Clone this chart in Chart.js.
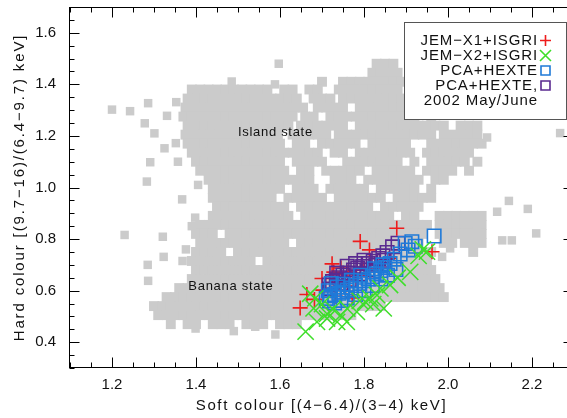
<!DOCTYPE html>
<html><head><meta charset="utf-8">
<script src="https://cdn.jsdelivr.net/npm/chart.js@4.4.1/dist/chart.umd.min.js"></script>
<style>
html,body{margin:0;padding:0;overflow:hidden;background:#fff;width:567px;height:418px}
#wrap{position:relative;width:580px;height:418px}
canvas{display:block}
</style></head>
<body><div id="wrap"><canvas id="c" width="580" height="418" style="width:580px;height:418px"></canvas></div>
<script>
// ---- axes ----
const xRange = [1.1, 2.3];
const yRange = [0.3, 1.7];
const xTickLabels = [1.2, 1.4, 1.6, 1.8, 2.0, 2.2];
const yTickLabels = [0.4, 0.6, 0.8, 1.0, 1.2, 1.4, 1.6];
const xTitle = 'Soft colour [(4\u22126.4)/(3\u22124) keV]';
const yTitle = 'Hard colour [(9.7\u221216)/(6.4\u22129.7) keV]';

// ---- series labels ----
const seriesLabels = ['JEM\u2212X1+ISGRI', 'JEM\u2212X2+ISGRI', 'PCA+HEXTE', 'PCA+HEXTE,\n2002 May/June'];

// ---- coloured series [soft, hard] ----
const jemx1Points = [[1.878,0.842],[1.791,0.791],[1.813,0.758],[1.962,0.751],[1.724,0.704],[1.728,0.672],[1.700,0.647],[1.664,0.585],[1.648,0.533],[1.682,0.566],[1.745,0.688],[1.762,0.672],[1.782,0.662],[1.738,0.632],[1.756,0.618],[1.800,0.683],[1.702,0.602],[1.772,0.572],[1.732,0.578],[1.832,0.702],[1.860,0.725]];
const jemx2Points = [[1.661,0.441],[1.688,0.479],[1.712,0.492],[1.736,0.479],[1.759,0.479],[1.783,0.518],[1.803,0.557],[1.815,0.570],[1.831,0.583],[1.839,0.609],[1.847,0.531],[1.862,0.622],[1.910,0.673],[1.950,0.751],[1.940,0.760],[1.680,0.531],[1.684,0.570],[1.672,0.588],[1.700,0.548],[1.726,0.528],[1.760,0.530],[1.790,0.560],[1.822,0.548],[1.880,0.650],[1.930,0.735],[1.712,0.510],[1.745,0.505]];
const pcaPoints = [[1.967,0.812],[1.922,0.772],[1.914,0.790],[1.898,0.783],[1.905,0.758],[1.886,0.742],[1.872,0.722],[1.862,0.705],[1.850,0.690],[1.840,0.678],[1.830,0.665],[1.820,0.655],[1.810,0.645],[1.800,0.638],[1.790,0.628],[1.780,0.620],[1.770,0.610],[1.760,0.602],[1.750,0.595],[1.740,0.590],[1.730,0.585],[1.720,0.580],[1.715,0.600],[1.718,0.560],[1.730,0.552],[1.745,0.562],[1.760,0.572],[1.780,0.585],[1.800,0.600],[1.820,0.620],[1.840,0.645],[1.856,0.660],[1.876,0.682],[1.722,0.628],[1.736,0.614],[1.710,0.570],[1.792,0.660],[1.770,0.640],[1.750,0.625],[1.825,0.685],[1.845,0.700]];
const pca2002Points = [[1.881,0.784],[1.868,0.770],[1.855,0.748],[1.845,0.735],[1.835,0.725],[1.822,0.714],[1.810,0.705],[1.797,0.694],[1.785,0.688],[1.775,0.680],[1.762,0.668],[1.750,0.660],[1.740,0.650],[1.734,0.642],[1.725,0.635],[1.717,0.622],[1.720,0.606],[1.745,0.628],[1.765,0.642],[1.790,0.665],[1.808,0.680],[1.828,0.698],[1.848,0.718],[1.760,0.695],[1.800,0.718],[1.735,0.668],[1.780,0.705]];

// ---- grey archive points: rows of [hard, [soft values]] ----
const islandRows = [
 [1.48,[1.83,1.85,1.87]],
 [1.445,[1.82,1.84,1.86,1.88]],
 [1.41,[1.70,1.75,1.77,1.79,1.81,1.83,1.85,1.87,1.89]],
 [1.38,[1.39,1.41,1.43,1.45,1.47,1.49,1.51,1.53,1.55,1.57,1.61,1.63,1.67,1.69,1.74,1.76,1.78,1.80,1.82,1.84,1.86,1.88]],
 [1.345,[1.38,1.40,1.42,1.44,1.46,1.48,1.50,1.52,1.54,1.56,1.58,1.60,1.62,1.64,1.68,1.70,1.72,1.75,1.77,1.79,1.81,1.83,1.85,1.87,1.89]],
 [1.31,[1.375,1.395,1.415,1.435,1.455,1.475,1.495,1.515,1.535,1.555,1.575,1.595,1.615,1.635,1.655,1.69,1.71,1.73,1.75,1.79,1.81,1.83,1.85,1.87,1.89,1.91,1.93]],
 [1.275,[1.37,1.39,1.41,1.43,1.45,1.47,1.49,1.51,1.53,1.55,1.57,1.59,1.61,1.63,1.66,1.68,1.72,1.74,1.76,1.78,1.80,1.82,1.84,1.86,1.88,1.90,1.92,1.96]],
 [1.24,[1.38,1.40,1.42,1.44,1.46,1.48,1.50,1.52,1.54,1.56,1.58,1.60,1.62,1.65,1.67,1.69,1.71,1.73,1.75,1.79,1.81,1.83,1.85,1.87,1.89,1.91,1.93,1.95,1.97,1.99,2.03,2.05,2.07]],
 [1.205,[1.375,1.395,1.415,1.435,1.455,1.475,1.495,1.515,1.535,1.555,1.575,1.595,1.63,1.65,1.67,1.69,1.71,1.74,1.76,1.78,1.80,1.82,1.84,1.86,1.88,1.90,1.92,1.94,1.96,1.99,2.01,2.03,2.05,2.07]],
 [1.17,[1.38,1.40,1.42,1.44,1.46,1.48,1.50,1.52,1.54,1.56,1.58,1.60,1.64,1.66,1.70,1.72,1.74,1.76,1.78,1.82,1.84,1.86,1.88,1.90,1.96,1.98,2.00,2.02,2.04,2.06,2.08]],
 [1.135,[1.39,1.41,1.43,1.45,1.47,1.49,1.51,1.53,1.55,1.57,1.59,1.61,1.63,1.65,1.67,1.69,1.73,1.75,1.79,1.81,1.83,1.85,1.87,1.89,1.91,1.95,1.97,1.99,2.01,2.03,2.05]],
 [1.10,[1.40,1.42,1.44,1.46,1.48,1.50,1.52,1.54,1.56,1.58,1.60,1.64,1.66,1.68,1.70,1.76,1.78,1.80,1.82,1.84,1.86,1.88,1.92,1.96,1.98,2.00,2.02,2.04,2.07]],
 [1.065,[1.41,1.43,1.45,1.47,1.49,1.51,1.53,1.55,1.57,1.59,1.61,1.65,1.67,1.71,1.73,1.75,1.77,1.79,1.83,1.85,1.87,1.89,1.91,1.95,1.97,1.99,2.01,2.05]],
 [1.03,[1.43,1.45,1.47,1.49,1.51,1.53,1.55,1.57,1.59,1.61,1.63,1.65,1.67,1.73,1.75,1.77,1.81,1.83,1.85,1.87,1.89,1.91,1.93,1.97,1.99]],
 [0.995,[1.44,1.46,1.48,1.50,1.52,1.54,1.56,1.58,1.60,1.64,1.66,1.68,1.72,1.74,1.76,1.78,1.80,1.84,1.86,1.88,1.90,1.92,1.96]],
 [0.96,[1.44,1.46,1.48,1.50,1.52,1.54,1.56,1.58,1.62,1.64,1.66,1.68,1.70,1.74,1.76,1.78,1.80,1.82,1.84,1.88,1.90,1.92,1.94,1.96]],
 [0.925,[1.45,1.47,1.49,1.51,1.53,1.55,1.57,1.59,1.61,1.65,1.67,1.69,1.71,1.73,1.75,1.77,1.79,1.81,1.85,1.87,1.89,1.91,1.93]],
 [0.89,[1.44,1.46,1.48,1.50,1.52,1.54,1.56,1.58,1.60,1.62,1.66,1.68,1.70,1.72,1.74,1.76,1.78,1.80,1.82,1.84,1.86,1.90,1.92,1.98,2.00,2.02,2.04,2.06,2.08]],
 [0.855,[1.41,1.43,1.45,1.47,1.49,1.51,1.53,1.55,1.57,1.59,1.61,1.63,1.65,1.67,1.69,1.71,1.73,1.75,1.77,1.79,1.81,1.83,1.85,1.87,1.89,1.91,1.93,1.95,1.98,2.00,2.02,2.04,2.06,2.08]]
];
const bananaRows = [
 [0.82,[1.40,1.42,1.44,1.48,1.50,1.52,1.54,1.56,1.58,1.60,1.62,1.64,1.66,1.68,1.70,1.72,1.74,1.76,1.78,1.80,1.82,1.84,1.86,1.88,1.90,1.92,1.94,1.98,2.00,2.02,2.04,2.06,2.08]],
 [0.785,[1.41,1.43,1.45,1.47,1.49,1.51,1.53,1.55,1.57,1.59,1.61,1.65,1.67,1.69,1.71,1.73,1.75,1.77,1.79,1.81,1.83,1.85,1.87,1.89,1.91,1.93,1.99,2.01,2.04,2.06,2.08]],
 [0.75,[1.40,1.42,1.44,1.46,1.50,1.52,1.54,1.56,1.58,1.60,1.62,1.64,1.66,1.68,1.70,1.72,1.74,1.76,1.78,1.80,1.82,1.84,1.86,1.88,1.90,1.92,1.94,1.96,2.06]],
 [0.715,[1.39,1.41,1.43,1.45,1.47,1.49,1.51,1.53,1.57,1.59,1.61,1.63,1.65,1.67,1.69,1.71,1.73,1.75,1.77,1.79,1.81,1.83,1.85,1.87,1.89,1.91,1.93,1.95]],
 [0.68,[1.40,1.42,1.44,1.46,1.48,1.50,1.52,1.54,1.56,1.58,1.60,1.62,1.64,1.66,1.68,1.70,1.72,1.74,1.76,1.78,1.80,1.82,1.84,1.86,1.88,1.90,1.92,1.94,1.96]],
 [0.645,[1.39,1.41,1.43,1.45,1.47,1.49,1.51,1.53,1.55,1.57,1.59,1.61,1.63,1.65,1.67,1.69,1.71,1.73,1.75,1.77,1.79,1.81,1.83,1.85,1.87,1.89,1.91,1.93,1.95,1.97]],
 [0.61,[1.36,1.38,1.40,1.42,1.44,1.46,1.48,1.50,1.52,1.54,1.56,1.58,1.60,1.62,1.64,1.66,1.68,1.70,1.72,1.74,1.76,1.78,1.80,1.82,1.84,1.86,1.88,1.90,1.92,1.94,1.96,1.98]],
 [0.575,[1.33,1.35,1.37,1.39,1.41,1.43,1.45,1.47,1.49,1.51,1.53,1.55,1.57,1.59,1.61,1.63,1.65,1.67,1.69,1.71,1.73,1.75,1.77,1.79,1.81,1.83,1.85,1.87,1.89,1.91,1.93,1.95,1.97,1.99]],
 [0.54,[1.30,1.32,1.34,1.36,1.38,1.40,1.42,1.44,1.46,1.48,1.50,1.52,1.54,1.56,1.58,1.60,1.62,1.64,1.66,1.68,1.70,1.72,1.74,1.76,1.78,1.80,1.82,1.84]],
 [0.505,[1.31,1.33,1.35,1.37,1.39,1.41,1.43,1.45,1.47,1.49,1.51,1.53,1.55,1.57,1.59,1.61,1.63,1.65,1.67,1.69,1.71,1.73,1.75,1.77]],
 [0.47,[1.34,1.38,1.40,1.44,1.46,1.48,1.52,1.54,1.56,1.60,1.62,1.64]]
];
const strayGreyPoints = [[1.597,1.48],[1.485,1.411],[1.588,1.40],[1.200,1.302],[1.243,1.296],[1.286,1.327],[1.353,1.331],[1.331,1.278],[1.278,1.249],[1.301,1.210],[1.325,1.152],[1.352,1.172],[1.291,1.098],[1.357,1.100],[1.283,1.023],[1.367,0.954],[1.398,0.883],[1.405,1.010],[1.230,0.816],[1.321,0.809],[1.323,0.731],[1.285,0.700],[1.286,0.638],[1.368,0.715],[1.376,0.760],[1.390,0.850],[2.093,1.194],[2.267,1.211],[2.145,0.948],[2.117,0.906],[2.190,0.917],[2.210,0.822],[2.129,0.795],[2.152,0.795],[2.069,0.829],[2.061,0.751],[2.005,0.764],[1.986,0.731],[1.399,0.453],[1.490,0.443],[1.541,0.460],[1.589,0.430]];

// ---- in-plot annotations ----
const stateLabels = ['Island state', 'Banana state'];
const stateX = [1.589, 1.483];
const stateY = [1.213, 0.615];

const FONT = '"Liberation Sans", Arial, Helvetica, sans-serif';
const toXY = p => ({x: p[0], y: p[1]});
const rowsToXY = rows => rows.flatMap(r => r[1].map(x => ({x: x, y: r[0]})));
const noPad = s => { s.paddingTop = 0; s.paddingBottom = 0; s.paddingLeft = 0; s.paddingRight = 0; };

const idlPlugin = {
  id: 'idl',
  afterDatasetsDraw(chart) {
    const ctx = chart.ctx;
    const xs = chart.scales.x, ys = chart.scales.y;
    ctx.save();
    ctx.strokeStyle = '#000'; ctx.lineWidth = 1;
    const L = Math.round(xs.getPixelForValue(xRange[0])) - 0.5, R = Math.round(xs.getPixelForValue(xRange[1])) - 0.5;
    const T = Math.round(ys.getPixelForValue(yRange[1])) + 0.5, B = Math.round(ys.getPixelForValue(yRange[0])) - 0.5;
    ctx.strokeRect(L, T, R - L, B - T);
    ctx.beginPath();
    for (let k = 22; k <= 46; k++) {
      const v = k * 0.05, px = Math.round(xs.getPixelForValue(v)) + 0.5;
      const len = (k % 4 === 0) ? 10 : 5;
      ctx.moveTo(px, B); ctx.lineTo(px, B - len);
      ctx.moveTo(px, T); ctx.lineTo(px, T + len);
    }
    for (let k = 6; k <= 34; k++) {
      const v = k * 0.05, py = Math.round(ys.getPixelForValue(v)) + 0.5;
      const len = (k % 4 === 0) ? 10 : 5;
      ctx.moveTo(L, py); ctx.lineTo(L + len, py);
      ctx.moveTo(R, py); ctx.lineTo(R - len, py);
    }
    ctx.stroke();

    // annotations
    ctx.fillStyle = '#111';
    ctx.font = '13px ' + FONT;
    ctx.textAlign = 'center'; ctx.textBaseline = 'middle';
    ctx.letterSpacing = '0.7px';
    stateLabels.forEach((t, i) => ctx.fillText(t, xs.getPixelForValue(stateX[i]), ys.getPixelForValue(stateY[i])));

    // axis titles
    ctx.font = '15px ' + FONT;
    ctx.letterSpacing = '1.6px';
    ctx.fillText(xTitle, (L + R) / 2, chart.height - 12);
    ctx.save();
    ctx.letterSpacing = '1.85px';
    ctx.translate(20, (T + B) / 2);
    ctx.rotate(-Math.PI / 2);
    ctx.fillText(yTitle, 0, 0);
    ctx.restore();

    // legend
    ctx.letterSpacing = '0.9px';
    ctx.fillStyle = '#fff';
    ctx.fillRect(404.5, 22.5, 162, 97);
    ctx.strokeStyle = '#555';
    ctx.lineWidth = 1;
    ctx.strokeRect(404.5, 22.5, 162, 97);
    ctx.font = '15px ' + FONT;
    ctx.textAlign = 'right';
    ctx.fillStyle = '#111';
    let yy = 40.5;
    const mx = 545.5;
    chart.data.datasets.slice(0, 4).forEach((ds) => {
      const lines = ds.label.split('\n');
      ctx.fillText(lines[0], 538, yy);
      ctx.strokeStyle = ds.pointBorderColor;
      ctx.lineWidth = 1.6;
      ctx.beginPath();
      if (ds.pointStyle === 'cross') {
        ctx.moveTo(mx - 5.5, yy); ctx.lineTo(mx + 5.5, yy);
        ctx.moveTo(mx, yy - 5.5); ctx.lineTo(mx, yy + 5.5);
      } else if (ds.pointStyle === 'crossRot') {
        ctx.moveTo(mx - 5.5, yy - 5.5); ctx.lineTo(mx + 5.5, yy + 5.5);
        ctx.moveTo(mx + 5.5, yy - 5.5); ctx.lineTo(mx - 5.5, yy + 5.5);
      } else {
        ctx.rect(mx - 4.5, yy - 4.5, 9, 9);
      }
      ctx.stroke();
      yy += 15;
      for (let j = 1; j < lines.length; j++) { ctx.fillText(lines[j], 538, yy); yy += 15; }
    });
    ctx.letterSpacing = '0px';
    ctx.restore();
  }
};

new Chart(document.getElementById('c'), {
  type: 'scatter',
  data: {
    datasets: [
      {label: seriesLabels[0], data: jemx1Points.map(toXY), pointStyle: 'cross', pointRadius: 7.5, pointBorderColor: '#ee1c1c', pointBackgroundColor: 'rgba(0,0,0,0)', pointBorderWidth: 1.6, order: 4},
      {label: seriesLabels[1], data: jemx2Points.map(toXY), pointStyle: 'crossRot', pointRadius: 11.5, pointBorderColor: '#3ede2a', pointBackgroundColor: 'rgba(0,0,0,0)', pointBorderWidth: 1.5, order: 1},
      {label: seriesLabels[2], data: pcaPoints.map(toXY), pointStyle: 'rect', pointRadius: 9.5, pointBorderColor: '#1f7ad8', pointBackgroundColor: 'rgba(0,0,0,0)', pointBorderWidth: 1.6, order: 2},
      {label: seriesLabels[3], data: pca2002Points.map(toXY), pointStyle: 'rect', pointRadius: 9.5, pointBorderColor: '#5a2a90', pointBackgroundColor: 'rgba(0,0,0,0)', pointBorderWidth: 1.6, order: 3},
      {label: 'archive', data: rowsToXY(islandRows).concat(rowsToXY(bananaRows)), pointStyle: 'rect', pointRadius: 7.0, pointBackgroundColor: '#cbcbcb', pointBorderWidth: 0, order: 6},
      {label: 'archive stray', data: strayGreyPoints.map(toXY), pointStyle: 'rect', pointRadius: 6.0, pointBackgroundColor: '#cbcbcb', pointBorderWidth: 0, order: 5}
    ]
  },
  options: {
    responsive: false,
    devicePixelRatio: 1,
    animation: false,
    events: [],
    layout: {autoPadding: false, padding: {left: 0, right: 6, top: 7, bottom: 0}},
    plugins: {legend: {display: false}, tooltip: {enabled: false}},
    scales: {
      x: {
        type: 'linear', min: xRange[0], max: xRange[1],
        grid: {display: false, drawTicks: false}, border: {display: false},
        ticks: {padding: 8, color: '#111', font: {family: FONT, size: 15}, maxRotation: 0, autoSkip: false, callback: v => Number(v).toFixed(1)},
        afterBuildTicks: s => { s.ticks = xTickLabels.map(v => ({value: v})); },
        afterFit: s => { s.height = 50; noPad(s); }
      },
      y: {
        type: 'linear', min: yRange[0], max: yRange[1],
        grid: {display: false, drawTicks: false}, border: {display: false},
        ticks: {padding: 14, color: '#111', font: {family: FONT, size: 15}, autoSkip: false, callback: v => Number(v).toFixed(1)},
        afterBuildTicks: s => { s.ticks = yTickLabels.map(v => ({value: v})); },
        afterFit: s => { s.width = 70; noPad(s); }
      }
    }
  },
  plugins: [idlPlugin]
});
</script>
</body></html>
